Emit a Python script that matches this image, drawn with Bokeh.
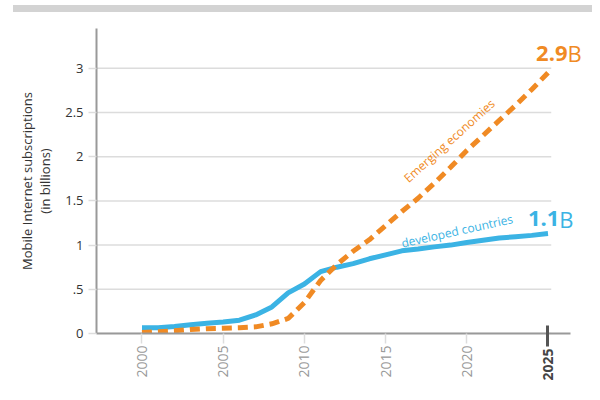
import math
from bokeh.plotting import figure
from bokeh.models import Range1d, FixedTicker, Label, LinearAxis, Div
from bokeh.layouts import column
from bokeh.embed import file_html
from bokeh.resources import INLINE

# ---- data ----
years = list(range(2000, 2026))
developed = [0.065, 0.065, 0.08, 0.10, 0.115, 0.13, 0.15, 0.21, 0.30, 0.46, 0.56, 0.70, 0.75,
             0.79, 0.845, 0.89, 0.935, 0.955, 0.98, 1.00, 1.03, 1.055, 1.08, 1.095, 1.11, 1.13]
emerging = [0.01, 0.02, 0.03, 0.045, 0.055, 0.06, 0.065, 0.075, 0.11, 0.17, 0.35, 0.60, 0.78,
            0.93, 1.06, 1.22, 1.38, 1.53, 1.70, 1.88, 2.07, 2.24, 2.41, 2.58, 2.76, 2.95]
x_ticks = [2000, 2005, 2010, 2015, 2020]
x_tick_labels = ["2000", "2005", "2010", "2015", "2020"]
end_year = 2025
y_ticks = [0, 0.5, 1, 1.5, 2, 2.5, 3]
y_tick_labels = ["0", ".5", "1", "1.5", "2", "2.5", "3"]
emerging_end_label = "2.9"
developed_end_label = "1.1"

BLUE = "#3bb3e4"
ORANGE = "#f08a24"
FONT = "Open Sans"

X0, X_AXIS_END, X1 = 1997.2, 2026.4, 2027.74
Y_AXIS_END = 3.45

p = figure(width=592, height=380, output_backend="svg", toolbar_location=None,
           x_range=Range1d(X0, X1), y_range=Range1d(0, Y_AXIS_END),
           x_axis_location=None,
           min_border_left=96, min_border_right=0, min_border_top=16, min_border_bottom=59)
p.outline_line_color = None
p.background_fill_color = "white"
p.xgrid.visible = False
p.ygrid.visible = False

# horizontal gridlines ending at 2025
p.segment(x0=[X0] * len(y_ticks), x1=[2025.2] * len(y_ticks), y0=y_ticks, y1=y_ticks,
          line_color="#dcdcdc", line_width=1.5)

# series
p.line(years, developed, line_color=BLUE, line_width=5)
p.line(years, emerging, line_color=ORANGE, line_width=5, line_dash="10 6")

# main x axis (closest to frame)
A_SIZE = 44
xa = LinearAxis(ticker=FixedTicker(ticks=x_ticks), bounds=(X0, X_AXIS_END))
xa.major_label_overrides = {t: l for t, l in zip(x_ticks, x_tick_labels)}
xa.major_label_orientation = math.pi / 2
xa.major_label_text_font = FONT
xa.major_label_text_font_size = "14px"
xa.major_label_text_color = "#999999"
xa.major_label_standoff = 2
xa.major_tick_in = 0
xa.major_tick_out = 10
xa.major_tick_line_color = "#dddddd"
xa.major_tick_line_width = 1.5
xa.minor_tick_line_color = None
xa.axis_line_color = "#999999"
xa.axis_line_width = 2
p.add_layout(xa, "below")

# emphasised 2025 tick + bold label (second axis, pulled back up to the axis line)
xb = LinearAxis(ticker=FixedTicker(ticks=[end_year]), bounds=(X0, X_AXIS_END))
xb.major_label_orientation = math.pi / 2
xb.major_label_text_font = FONT
xb.major_label_text_font_size = "14px"
xb.major_label_text_font_style = "bold"
xb.major_label_text_color = "#444444"
xb.major_tick_in = A_SIZE + 11
xb.major_tick_out = -(A_SIZE - 10)
xb.major_label_standoff = 12 - A_SIZE
xb.major_tick_line_color = "#555555"
xb.major_tick_line_width = 3
xb.minor_tick_line_color = None
xb.axis_line_color = None
p.add_layout(xb, "below")

ya = p.yaxis[0]
ya.bounds = (0, Y_AXIS_END)
ya.ticker = FixedTicker(ticks=y_ticks)
ya.major_label_overrides = {t: l for t, l in zip(y_ticks, y_tick_labels)}
ya.major_label_text_font = FONT
ya.major_label_text_font_size = "13px"
ya.major_label_text_color = "#333333"
ya.major_label_standoff = 5
ya.major_tick_in = 0
ya.major_tick_out = 8
ya.major_tick_line_color = "#dddddd"
ya.major_tick_line_width = 1.5
ya.minor_tick_line_color = None
ya.axis_line_color = "#999999"
ya.axis_line_width = 2
ya.axis_label = "Mobile Internet subscriptions\n(in billions)"
ya.axis_label_text_font = FONT
ya.axis_label_text_font_size = "13px"
ya.axis_label_text_font_style = "normal"
ya.axis_label_text_color = "#333333"
ya.axis_label_text_line_height = 1.0
ya.axis_label_standoff = 8

# end labels
p.add_layout(Label(x=2026.2, y=3.17, text=emerging_end_label, text_align="right", text_baseline="middle",
                   text_font=FONT, text_font_size="22px", text_font_style="bold", text_color=ORANGE))
p.add_layout(Label(x=2026.2, y=3.17, text="B", text_align="left", text_baseline="middle",
                   text_font=FONT, text_font_size="22px", text_color=ORANGE))
p.add_layout(Label(x=2025.7, y=1.30, text=developed_end_label, text_align="right", text_baseline="middle",
                   text_font=FONT, text_font_size="22px", text_font_style="bold", text_color=BLUE))
p.add_layout(Label(x=2025.7, y=1.30, text="B", text_align="left", text_baseline="middle",
                   text_font=FONT, text_font_size="22px", text_color=BLUE))

# series labels
p.add_layout(Label(x=2018.92, y=2.18, text="Emerging economies", angle=math.radians(42),
                   text_align="center", text_baseline="middle", text_font=FONT,
                   text_font_size="12px", text_color=ORANGE))
p.add_layout(Label(x=2019.4, y=1.16, text="developed countries", angle=math.radians(12.5),
                   text_align="center", text_baseline="middle", text_font=FONT,
                   text_font_size="12px", text_color=BLUE))

# top gray band
band = Div(text="", width=579, height=7, margin=(5, 0, 0, 13),
           styles={"background-color": "#d3d3d3"})

layout = column(band, p, spacing=0)
open("out.html", "w").write(file_html(layout, INLINE))
